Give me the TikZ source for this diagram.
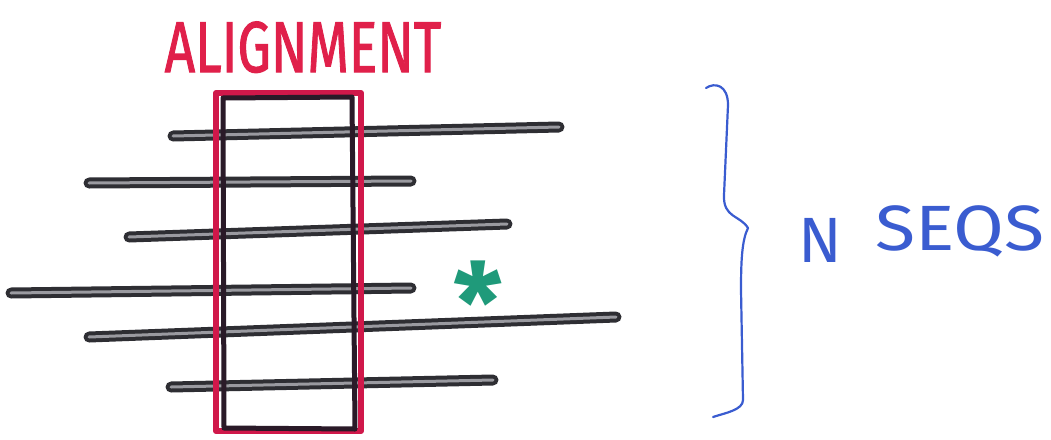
\documentclass[tikz,border=0pt]{standalone}
\usepackage{fontspec}
\setmainfont{Fira Sans}
\definecolor{seqink}{HTML}{2E2E33}
\definecolor{seqhi}{HTML}{9A9AA0}
\definecolor{alred}{HTML}{E0204A}
\definecolor{boxred}{HTML}{D0184A}
\definecolor{boxdark}{HTML}{2A1A28}
\definecolor{bluink}{HTML}{3A5CD0}
\definecolor{starg}{HTML}{1F9A7A}
\tikzset{
  seqline/.style={draw=seqink, line width=4pt, double=seqhi, double distance=3pt, line cap=round},
  redbox/.style={draw=boxred, line width=6pt, line join=round},
  darkbox/.style={draw=boxdark, line width=5pt, line join=round},
  bracestyle/.style={draw=bluink, line width=2.2pt, line cap=round, line join=round},
  bluelabel/.style={text=bluink, font=\fontsize{64}{64}\selectfont, inner sep=0pt, anchor=base west}
}
\begin{document}
\begin{tikzpicture}[x=1pt,y=-1pt]
\useasboundingbox (0,0) rectangle (1051,439);
\fill[white] (0,0) rectangle (1051,439);
% title
\node[text=alred, inner sep=0pt, anchor=base, xscale=0.74, font=\fontsize{72}{72}\selectfont\addfontfeature{FakeBold=1.5}] (title) at (303,72) {ALIGNMENT};
% sequences
\coordinate (s1a) at (173,136); \coordinate (s1b) at (559,127);
\coordinate (s2a) at (89,183);  \coordinate (s2b) at (411,181);
\coordinate (s3a) at (129,237); \coordinate (s3b) at (507,224);
\coordinate (s4a) at (11,293);  \coordinate (s4b) at (411,288);
\coordinate (s5a) at (89,337);  \coordinate (s5b) at (616,317);
\coordinate (s6a) at (171,387); \coordinate (s6b) at (493,380);
\draw[seqline] (s1a) -- (s1b);
\draw[seqline] (s2a) -- (s2b);
\draw[seqline] (s3a) -- (s3b);
\draw[seqline] (s4a) -- (s4b);
\draw[seqline] (s5a) -- (s5b);
\draw[seqline] (s6a) -- (s6b);
% boxes
\draw[redbox] (216,93) rectangle (361,431);
\draw[darkbox] (223,98) -- (352,97) -- (355,429) -- (224,428) -- cycle;
% asterisk
\node[text=starg, inner sep=0pt, font=\fontsize{110}{110}\selectfont\bfseries] (star) at (478,302) {*};
% brace
\coordinate (bt) at (706,88);
\coordinate (bm) at (748,228);
\coordinate (bb) at (713,417);
\draw[bracestyle] (bt) .. controls (715,82) and (728,85) .. (728,105)
  -- (724,195) .. controls (723,218) and (740,215) .. (bm)
  .. controls (742,240) and (741,260) .. (741,290)
  -- (743,400) .. controls (743,410) and (725,413) .. (bb);
% label
\node[bluelabel] (nlab) at (798,262) {N};
\node[bluelabel, xscale=1.15, anchor=base west] (seqs) at (875,250) {SEQS};
\end{tikzpicture}
\end{document}
